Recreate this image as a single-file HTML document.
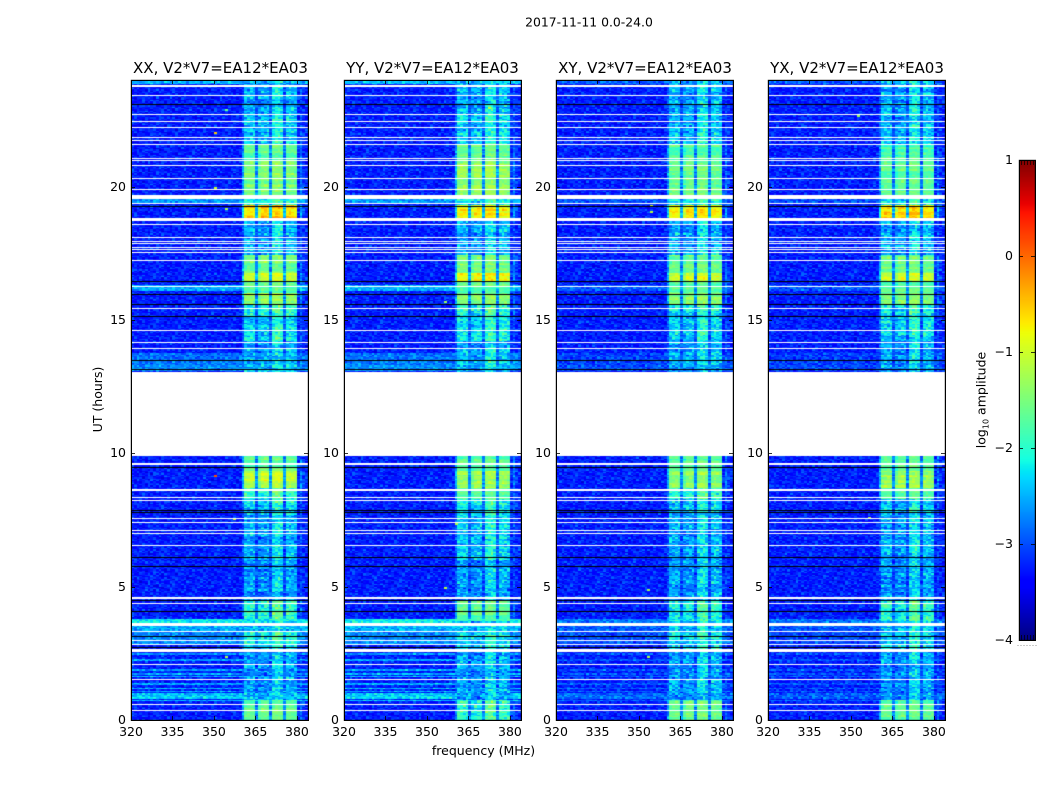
<!DOCTYPE html>
<html lang="en">
<head>
<meta charset="utf-8">
<title>2017-11-11 0.0-24.0</title>
<style>
html,body{margin:0;padding:0;background:#fff;}
#chart{position:relative;width:1050px;height:800px;overflow:hidden;background:#fff;font-family:"DejaVu Sans","Liberation Sans",sans-serif;}
canvas{position:absolute;display:block;}
svg{position:absolute;left:0;top:0;}
svg text{font-family:"DejaVu Sans","Liberation Sans",sans-serif;fill:#000;}
</style>
</head>
<body>
<div id="chart">
  <canvas id="heat-0" width="177" height="640" style="left:131px;top:80px"></canvas>
  <canvas id="heat-1" width="177" height="640" style="left:344px;top:80px"></canvas>
  <canvas id="heat-2" width="177" height="640" style="left:556px;top:80px"></canvas>
  <canvas id="heat-3" width="177" height="640" style="left:768px;top:80px"></canvas>
  <canvas id="colorbar-canvas" width="16" height="480" style="left:1019px;top:160px"></canvas>
  <svg id="overlay" width="1050" height="800" viewBox="0 0 1050 800">
    <text x="589" y="26.500" font-size="12.400" text-anchor="middle">2017-11-11 0.0-24.0</text>
    <text x="220.500" y="73" font-size="15" text-anchor="middle">XX, V2*V7=EA12*EA03</text>
    <text x="432.500" y="73" font-size="15" text-anchor="middle">YY, V2*V7=EA12*EA03</text>
    <text x="645" y="73" font-size="15" text-anchor="middle">XY, V2*V7=EA12*EA03</text>
    <text x="857" y="73" font-size="15" text-anchor="middle">YX, V2*V7=EA12*EA03</text>
    <text x="483.500" y="755" font-size="12.500" text-anchor="middle">frequency (MHz)</text>
    <text transform="translate(102,399.500) rotate(-90)" font-size="12.500" text-anchor="middle">UT (hours)</text>
    <text transform="translate(985.500,400) rotate(-90)" font-size="12.500" text-anchor="middle">log<tspan font-size="8" dy="3">10</tspan><tspan dy="-3"> amplitude</tspan></text>
  </svg>
</div>
<script>
// ---- axis tick data ----
const freqTicks = [320, 335, 350, 365, 380];
const hourTicks = [0, 5, 10, 15, 20];
const colorbarTicks = [1, 0, -1, -2, -3, -4];
const colorbarMinorTicks = [-4, 1];

// ---- axis domains ----
const freqDomain = [320, 384];
const hourDomain = [0, 24];
const levelDomain = [-4, 1];

// ---- time flags, hours UT ----
const emptyHours = [[9.9, 13.0]];
const whiteThickHours = [[23.74, 23.83], [19.55, 19.70], [18.72, 18.81], [9.55, 9.65], [8.60, 8.66], [4.53, 4.60], [3.52, 3.65], [2.56, 2.67]];
const whiteLineHours = [23.44, 22.71, 22.46, 22.24, 21.88, 21.75, 21.60, 21.09, 21.0, 20.82, 20.33, 19.91, 19.38, 18.6, 18.11, 17.97, 17.88, 17.75, 17.65, 17.55, 17.24, 16.26, 15.46, 14.61, 14.16, 13.94, 13.06, 8.37, 8.25, 7.59, 7.43, 7.13, 7.02, 6.57, 4.38, 3.34, 3.0, 2.85, 2.09, 1.53, 0.59, 0.36];
const blackLineHours = [23.1, 19.27, 16.45, 15.96, 15.61, 15.45, 15.15, 14.19, 13.5, 13.15, 9.48, 7.87, 7.8, 6.12, 5.77, 4.5, 4.1, 3.15, 2.75];

// ---- band brightness through the day (log10 amplitude) ----
const bandSegmentEdges = [0, 0.75, 2.55, 3.3, 3.7, 4.5, 6.0, 7.8, 8.3, 8.7, 9.35, 13.0, 14.2, 15.2, 15.6, 16.0, 16.45, 16.75, 17.45, 18.8, 19.3, 19.7, 21.0, 21.6, 22.7, 24.0];
const xxBandLevels = [-1.6, -2.5, -2.05, -2.3, -1.85, -2.5, -2.4, -2.2, -1.85, -1.1, -1.65, -2.4, -2.15, -2.0, -1.3, -1.7, -1.0, -1.55, -2.4, -0.55, -2.0, -1.5, -1.7, -2.25, -2.4];
const yyBandLevels = [-1.9, -2.45, -2.15, -2.3, -1.7, -2.45, -2.25, -2.05, -1.75, -1.3, -1.7, -2.35, -2.1, -1.9, -1.45, -1.7, -0.85, -1.5, -2.4, -0.75, -2.0, -1.35, -1.6, -2.2, -2.35];
const xyBandLevels = [-1.6, -2.45, -2.1, -2.3, -1.95, -2.45, -2.4, -2.2, -1.85, -1.4, -1.7, -2.4, -2.2, -2.05, -1.45, -1.7, -1.05, -1.6, -2.4, -0.75, -2.0, -1.6, -1.75, -2.3, -2.4];
const yxBandLevels = [-1.7, -2.5, -2.15, -2.3, -1.9, -2.5, -2.4, -2.25, -1.8, -1.3, -1.7, -2.45, -2.2, -2.0, -1.5, -1.7, -1.1, -1.6, -2.4, -0.65, -2.0, -1.7, -1.8, -2.35, -2.4];

// ---- per-MHz spectral response of the receiver, 320..383 ----
const channelResponse = [
  0,0,0,0,0,0,0,0,0,0,
  0,0,0,0,0,0,0,0,0,0,
  0,0,0,0,0,0,0,0,0,0,
  0,0,0,0,0,0,0,0,0,0,
  .38,.96,1,1,.97,.3,.88,1.02,1.03,1,
  .32,1.02,1.05,1.05,1,.3,.98,1,.98,.94,
  .04,.26,.08,.02
];
// ---- how much each channel departs from the band level during quiet hours ----
const channelQuietOffset = [
  0,0,0,0,0,0,0,0,0,0,
  0,0,0,0,0,0,0,0,0,0,
  0,0,0,0,0,0,0,0,0,0,
  0,0,0,0,0,0,0,0,0,0,
  -.1,-.1,-.15,-.12,-.1,0,-.2,-.25,-.25,-.2,
  0,.05,.15,.2,.1,0,-.05,-.02,-.05,-.1,
  0,0,0,0
];
const backgroundLevel = -3.25;

// ---- broadband interference rows: start hour, end hour, level ----
const rfiRowStarts = [23.83, 19.38, 3.65, 3.34, 2.85, 3.0, 2.45, 2.2, 1.85, 1.7, 1.56, 1.3, 1.15, 1.02, 0.90, 0.80, 0.66, 16.1, 13.1, 13.28, 13.5];
const rfiRowEnds = [24.0, 19.55, 3.78, 3.52, 3.0, 3.34, 2.5, 2.26, 1.9, 1.75, 1.62, 1.36, 1.2, 1.07, 0.96, 0.86, 0.72, 16.26, 13.28, 13.5, 13.72];
const rfiRowLevels = [-2.5, -2.65, -2.2, -2.55, -2.7, -2.75, -2.65, -2.6, -2.6, -2.55, -2.5, -2.55, -2.5, -2.55, -2.45, -2.35, -2.45, -2.55, -2.7, -2.8, -2.85];
const rfiPanelGain = [1, 1.05, 0.45, 0.4];

// ---- isolated bright pixels: panel, hour, frequency, level ----
const speckPanels = [0, 0, 0, 0, 0, 0, 0, 1, 1, 1, 1, 2, 2, 2, 2, 3, 3];
const speckHours = [22.04, 22.9, 20.0, 19.2, 7.58, 9.2, 2.4, 5.0, 23.0, 15.7, 7.4, 19.3, 19.1, 2.4, 4.9, 22.7, 7.6];
const speckFreqs = [350, 354, 350, 354, 357, 350, 354, 356, 372, 356, 360, 354, 354, 353, 353, 352, 356];
const speckLevels = [-0.5, -1.6, -1.0, -1.2, -0.9, 0.15, -1.2, -1.1, -1.0, -1.3, -1.2, -1.0, -1.1, -1.2, -1.3, -1.3, -1.2];

// ---- residual noise texture, log10 units ----
const noiseTableA = [.22,-.18,.05,-.27,.31,-.06,.14,-.22,.02,.27,-.13,-.3,.09,.18,-.09,.36,-.2,-.02,.12,-.26,.24,.03,-.15,.07,-.24,.29,-.04,.16,-.11,-.28,.11,.2,-.17,.01,.33,-.07,-.21];
const noiseTableB = [-.08,.12,-.16,.03,.19,-.12,.07,-.02,.15,-.19,.1,-.05,.21,-.14,.01,.08,-.1,.17,-.17,.04,.13,-.07,-.15,.22,-.03,.06,-.2,.11,.02,-.11,.16,-.06,.09,-.18,.2,-.01,-.13,.05,.14,-.09,.0];

const panelLevels = [xxBandLevels, yyBandLevels, xyBandLevels, yxBandLevels];
const panelOrigins = [131, 344, 556, 768];
const panelNames = ['xx', 'yy', 'xy', 'yx'];
const heatTop = 80;
const heatWidth = 177;
const heatHeight = 640;
const rowStep = 0.05;

function xScale(f) { return (f - freqDomain[0]) / (freqDomain[1] - freqDomain[0]) * heatWidth; }
function yScale(h) { return heatHeight - (h - hourDomain[0]) / (hourDomain[1] - hourDomain[0]) * heatHeight; }
function levelFraction(v) { return (v - levelDomain[0]) / (levelDomain[1] - levelDomain[0]); }
function colorbarY(v) { return 160 + (levelDomain[1] - v) / (levelDomain[1] - levelDomain[0]) * 480; }

function seg(pts, t) {
  for (let i = 1; i < pts.length; i++) {
    if (t <= pts[i][0]) {
      const a = pts[i - 1], b = pts[i];
      return a[1] + (b[1] - a[1]) * (t - a[0]) / (b[0] - a[0]);
    }
  }
  return pts[pts.length - 1][1];
}
const jetR = [[0, 0], [.35, 0], [.66, 1], [.89, 1], [1, .5]];
const jetG = [[0, 0], [.125, 0], [.375, 1], [.64, 1], [.91, 0], [1, 0]];
const jetB = [[0, .5], [.11, 1], [.34, 1], [.65, 0], [1, 0]];
function jet(v) {
  const t = Math.max(0, Math.min(1, levelFraction(v)));
  return 'rgb(' + Math.round(seg(jetR, t) * 255) + ',' + Math.round(seg(jetG, t) * 255) + ',' + Math.round(seg(jetB, t) * 255) + ')';
}
function bandLevelAt(p, h) {
  const levels = panelLevels[p];
  for (let i = 0; i < levels.length; i++) {
    if (h >= bandSegmentEdges[i] && h < bandSegmentEdges[i + 1]) return levels[i];
  }
  return levels[levels.length - 1];
}
function backgroundAt(p, h) {
  let bg = backgroundLevel;
  for (let i = 0; i < rfiRowLevels.length; i++) {
    if (h >= rfiRowStarts[i] && h < rfiRowEnds[i]) {
      bg = backgroundLevel + (rfiRowLevels[i] - backgroundLevel) * rfiPanelGain[p];
    }
  }
  return bg;
}
function noiseAt(p, c, r) {
  const a = noiseTableA[(c * 17 + r * 5 + p * 11) % noiseTableA.length];
  const b = noiseTableB[(c * c * 7 + r * r * 3 + p) % noiseTableB.length];
  return a + b;
}
function rowStreakAt(p, r) {
  return noiseTableB[(r * 7 + p * 3) % noiseTableB.length];
}

function drawHeat(p) {
  const ctx = document.getElementById('heat-' + p).getContext('2d');
  const rows = Math.round((hourDomain[1] - hourDomain[0]) / rowStep);
  for (let r = 0; r < rows; r++) {
    const h = hourDomain[0] + r * rowStep;
    const y0 = Math.round(yScale(h + rowStep));
    const y1 = Math.round(yScale(h));
    const bg = backgroundAt(p, h);
    const band = bandLevelAt(p, h);
    const quiet = band < -1.8;
    const streak = rowStreakAt(p, r);
    for (let c = 0; c < channelResponse.length; c++) {
      const x0 = Math.round(xScale(freqDomain[0] + c));
      const x1 = Math.round(xScale(freqDomain[0] + c + 1));
      const w = channelResponse[c];
      let v = bg + (band - bg) * w;
      if (quiet) v += channelQuietOffset[c];
      if (w >= .5) v += streak * .9;
      const gain = w < .5 ? .8 : (quiet ? 1.0 : .45);
      v += noiseAt(p, c, r) * gain;
      ctx.fillStyle = jet(v);
      ctx.fillRect(x0, y0, x1 - x0, y1 - y0);
    }
  }
  for (let i = 0; i < speckLevels.length; i++) {
    if (speckPanels[i] !== p) continue;
    ctx.fillStyle = jet(speckLevels[i]);
    ctx.fillRect(Math.round(xScale(speckFreqs[i])), Math.round(yScale(speckHours[i])), 3, 2);
  }
  ctx.fillStyle = '#000';
  blackLineHours.forEach(function (h) {
    ctx.fillRect(0, Math.round(yScale(h)), heatWidth, 1);
  });
  ctx.fillStyle = '#fff';
  whiteLineHours.forEach(function (h) {
    ctx.fillRect(0, Math.round(yScale(h)), heatWidth, 1);
  });
  whiteThickHours.forEach(function (b) {
    const y0 = Math.round(yScale(b[1]));
    ctx.fillRect(0, y0, heatWidth, Math.round(yScale(b[0])) - y0);
  });
  emptyHours.forEach(function (b) {
    const y0 = Math.round(yScale(b[1]));
    ctx.fillRect(0, y0, heatWidth, Math.round(yScale(b[0])) - y0);
  });
}

const svg = document.getElementById('overlay');
const NS = 'http://www.w3.org/2000/svg';
function line(x1, y1, x2, y2, stroke, width) {
  const el = document.createElementNS(NS, 'line');
  el.setAttribute('x1', x1);
  el.setAttribute('y1', y1);
  el.setAttribute('x2', x2);
  el.setAttribute('y2', y2);
  el.setAttribute('stroke', stroke);
  el.setAttribute('stroke-width', width);
  svg.appendChild(el);
  return el;
}
function label(x, y, str, anchor) {
  const el = document.createElementNS(NS, 'text');
  el.setAttribute('x', x);
  el.setAttribute('y', y);
  el.setAttribute('font-size', '12.5');
  el.setAttribute('text-anchor', anchor);
  el.textContent = str;
  svg.appendChild(el);
  return el;
}
function frame(x, y, w, h) {
  const el = document.createElementNS(NS, 'rect');
  el.setAttribute('x', x);
  el.setAttribute('y', y);
  el.setAttribute('width', w);
  el.setAttribute('height', h);
  el.setAttribute('fill', 'none');
  el.setAttribute('stroke', '#000');
  el.setAttribute('stroke-width', '1.2');
  svg.appendChild(el);
  return el;
}

function drawAxes(p) {
  const ox = panelOrigins[p];
  const name = panelNames[p];
  const box = frame(ox + 0.4, heatTop + 0.4, heatWidth, heatHeight);
  
  
  freqTicks.forEach(function (f) {
    const x = ox + Math.round(xScale(f)) + 0.5;
    const bottomTick = line(x, heatTop + heatHeight, x, heatTop + heatHeight - 4, '#000', 0.8);
    
    
    const topTick = line(x, heatTop, x, heatTop + 4, '#000', 0.8);
    
    
    const t = label(ox + xScale(f), 736, String(f), 'middle');
    
    
  });
  hourTicks.forEach(function (h) {
    const y = heatTop + Math.round(yScale(h)) + 0.5;
    const leftTick = line(ox, y, ox + 4, y, '#000', 0.8);
    
    
    const rightTick = line(ox + heatWidth, y, ox + heatWidth - 4, y, '#000', 0.8);
    
    
    const t = label(ox - 5, y + 3.5, String(h), 'end');
    
    
  });
}

function drawColorbar() {
  const ctx = document.getElementById('colorbar-canvas').getContext('2d');
  for (let y = 0; y < 480; y++) {
    const v = levelDomain[1] - (y + 0.5) / 480 * (levelDomain[1] - levelDomain[0]);
    ctx.fillStyle = jet(v);
    ctx.fillRect(0, y, 16, 1);
  }
  const box = frame(1019.4, 160.4, 16, 480);
  
  
  colorbarTicks.forEach(function (v) {
    const y = Math.round(colorbarY(v)) + 0.5;
    const l = line(1019, y, 1023, y, '#000', 0.8);
    
    
    const r = line(1031, y, 1035, y, '#000', 0.8);
    
    
    const t = label(1013, y + 3.5, v < 0 ? '\u2212' + Math.abs(v) : String(v), 'end');
    
    
  });
  colorbarMinorTicks.forEach(function (v) {
    const y = colorbarY(v);
    const dir = v === levelDomain[1] ? 1 : -1;
    for (let x = 1021.5; x < 1035; x += 3) {
      const m = line(x, y, x, y + dir * 5, '#000', 0.7);
      
      
    }
  });
  for (let x = 1017.5; x < 1036; x += 3) {
    const dot = line(x, 645.5, x + 1, 645.5, '#999', 1);
    
    
  }
}

for (let p = 0; p < 4; p++) {
  drawHeat(p);
  drawAxes(p);
}
drawColorbar();
</script>
</body>
</html>
